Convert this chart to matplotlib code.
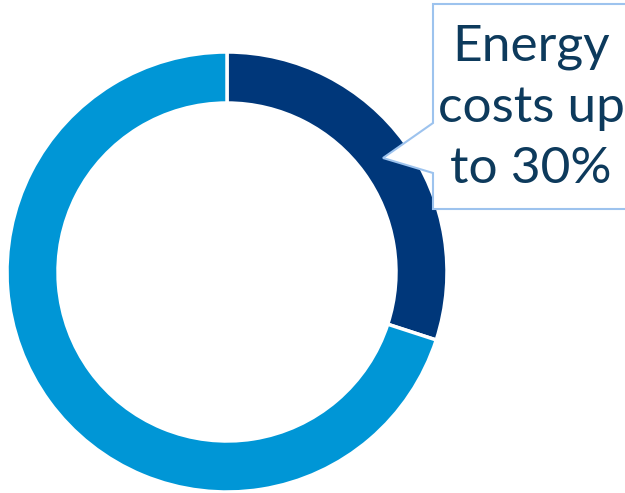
import matplotlib.pyplot as plt
from matplotlib.patches import Polygon

# donut shares
labels = ['Energy costs', 'Other costs']
shares = [30, 70]
colors = ['#00377A', '#0096D6']
callout_text = 'Energy\ncosts up\nto 30%'

fig = plt.figure(figsize=(6.25, 4.93), dpi=100)
ax = fig.add_axes([0, 0, 1, 1])
ax.set_xlim(0, 625)
ax.set_ylim(0, 493)
ax.set_aspect('equal')
ax.axis('off')

# ring
ax.pie(shares, colors=colors, startangle=90, counterclock=False,
       center=(227, 221), radius=220,
       wedgeprops=dict(width=51, edgecolor='white', linewidth=2.5))
ax.set_xlim(0, 625)
ax.set_ylim(0, 493)

# callout box with pointer
H = 493
pts = [(433, H - 4), (640, H - 4), (640, H - 209), (433, H - 209),
       (433, H - 173), (383, H - 158), (433, H - 123)]
ax.add_patch(Polygon(pts, closed=True, facecolor='white',
                     edgecolor='#9DC3EE', linewidth=1.5, zorder=5))

ax.text(531, H - 108, callout_text, ha='center', va='center',
        fontsize=37, color='#0D3A5C', family='Lato',
        linespacing=1.4, zorder=6)

fig.savefig('out.png', dpi=100)
